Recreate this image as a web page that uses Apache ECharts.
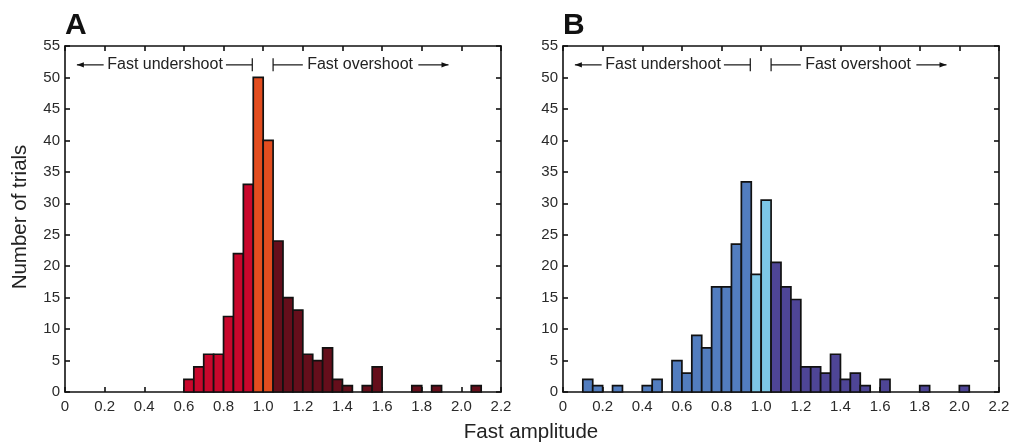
<!DOCTYPE html>
<html>
<head>
<meta charset="utf-8">
<script src="https://cdn.jsdelivr.net/npm/echarts@6/dist/echarts.min.js"></script>
<style>
html,body{margin:0;padding:0;background:#fff;}
#chart{width:1014px;height:442px;}
</style>
</head>
<body>
<div id="chart"></div>
<script>
// ---- data ----
const binWidth = 0.05;
const binStartsA = [0.60,0.65,0.70,0.75,0.80,0.85,0.90,0.95,1.00,1.05,1.10,1.15,1.20,1.25,1.30,1.35,1.40,1.50,1.55,1.75,1.85,2.05];
const countsA    = [2,   4,   6,   6,   12,  22,  33,  50,  40,  24,  15,  13,  6,   5,   7,   2,   1,   1,   4,   1,   1,   1];
const binStartsB = [0.10,0.15,0.25,0.40,0.45,0.55,0.60,0.65,0.70,0.75,0.80,0.85,0.90,0.95,1.00,1.05,1.10,1.15,1.20,1.25,1.30,1.35,1.40,1.45,1.50,1.60,1.80,2.00];
const countsB    = [2,   1,   1,   1,   2,   5,   3,   9,   7,   16.7,16.7,23.5,33.4,18.7,30.5,20.6,16.7,14.7,4,   4,   3,   6,   2,   3,   1,   2,   1,   1];
const xTicks = [0,0.2,0.4,0.6,0.8,1.0,1.2,1.4,1.6,1.8,2.0,2.2];
const yTicks = [0,5,10,15,20,25,30,35,40,45,50,55];
const panelLabels = ['A','B'];
const xName = 'Fast amplitude';
const yName = 'Number of trials';
const underText = 'Fast undershoot';
const overText = 'Fast overshoot';

const colorsA = {under:'#C9072C', center:'#E34D1F', over:'#650E1B'};
const colorsB = {under:'#527DBF', center:'#7DC7E6', over:'#4E4596'};

const FONT = '"Liberation Sans", Arial, Helvetica, sans-serif';
const chart = echarts.init(document.getElementById('chart'), null, {renderer:'canvas'});

const grids = [
  {left:65, top:46, width:436, height:346},
  {left:563, top:46, width:436, height:346}
];

function xAxisDef(gi, pos){
  return {
    type:'value', gridIndex:gi, position:pos, min:0, max:2.2, interval:0.2,
    axisLine:{show:true, onZero:false, lineStyle:{color:'#111', width:1.6}},
    axisTick:{show:true, inside:true, length:5, lineStyle:{color:'#111', width:1.6}},
    axisLabel:{show:pos==='bottom', color:'#2a2a2a', fontSize:15, fontFamily:FONT, margin:7,
      formatter:(v)=>{ const t = xTicks.find(k=>Math.abs(k-v)<1e-6); return t===0?'0':(t!==undefined?t.toFixed(1):''); }},
    splitLine:{show:false}
  };
}
function yAxisDef(gi, pos){
  return {
    type:'value', gridIndex:gi, position:pos, min:0, max:55, interval:5,
    axisLine:{show:true, onZero:false, lineStyle:{color:'#111', width:1.6}},
    axisTick:{show:true, inside:true, length:5, lineStyle:{color:'#111', width:1.6}},
    axisLabel:{show:pos==='left', color:'#2a2a2a', fontSize:15, fontFamily:FONT, margin:5,
      formatter:(v)=>{ const t = yTicks.find(k=>Math.abs(k-v)<1e-6); return t!==undefined?String(t):''; }},
    splitLine:{show:false}
  };
}

function makeSeries(gi, starts, counts, cols){
  return {
    type:'custom', xAxisIndex:gi*2, yAxisIndex:gi*2, clip:false,
    data: starts.map((s,i)=>[s, counts[i]]),
    renderItem:(params, api)=>{
      const x0 = api.value(0), v = api.value(1);
      if(!v) return null;
      const p0 = api.coord([x0, v]);
      const p1 = api.coord([x0+binWidth, 0]);
      let fill = cols.over;
      if(x0 < 0.95-1e-9) fill = cols.under;
      else if(x0 < 1.05-1e-9) fill = cols.center;
      return {type:'rect', shape:{x:p0[0], y:p0[1], width:p1[0]-p0[0], height:p1[1]-p0[1]},
        style:{fill:fill, stroke:'#111', lineWidth:1.7}};
    }
  };
}

chart.setOption({
  animation:false,
  backgroundColor:'#fff',
  grid:grids,
  xAxis:[xAxisDef(0,'bottom'), xAxisDef(0,'top'), xAxisDef(1,'bottom'), xAxisDef(1,'top')],
  yAxis:[yAxisDef(0,'left'), yAxisDef(0,'right'), yAxisDef(1,'left'), yAxisDef(1,'right')],
  series:[makeSeries(0, binStartsA, countsA, colorsA), makeSeries(1, binStartsB, countsB, colorsB)]
});

// ---- annotations placed in data space ----
const gfx = [];
const annY = 52;
function px(gi, x, y){ return chart.convertToPixel({gridIndex:gi}, [x, y]); }
function hline(a, b){ gfx.push({type:'line', shape:{x1:a[0], y1:a[1], x2:b[0], y2:b[1]}, style:{stroke:'#111', lineWidth:1.2}}); }
function vbar(p){ gfx.push({type:'line', shape:{x1:p[0], y1:p[1]-6.5, x2:p[0], y2:p[1]+6.5}, style:{stroke:'#111', lineWidth:1.2}}); }
function arrowHead(p, dir){ // dir -1 left, +1 right
  gfx.push({type:'polygon', shape:{points:[[p[0], p[1]], [p[0]-dir*7, p[1]-2.6], [p[0]-dir*7, p[1]+2.6]]}, style:{fill:'#111'}});
}
function text(p, s){ gfx.push({type:'text', x:p[0], y:p[1], style:{text:s, fill:'#222', font:'16px '+FONT, textAlign:'left', textVerticalAlign:'middle'}}); }
for(let gi=0; gi<2; gi++){
  const a0 = px(gi, 0.06, annY), a1 = px(gi, 0.195, annY);
  hline(a0, a1); arrowHead(a0, -1);
  text(px(gi, 0.213, annY), underText);
  const b0 = px(gi, 0.812, annY), b1 = px(gi, 0.945, annY);
  hline(b0, b1); vbar(b1);
  const c0 = px(gi, 1.05, annY), c1 = px(gi, 1.2, annY);
  hline(c0, c1); vbar(c0);
  text(px(gi, 1.222, annY), overText);
  const d0 = px(gi, 1.783, annY), d1 = px(gi, 1.935, annY);
  hline(d0, d1); arrowHead(d1, 1);
  // panel letter
  gfx.push({type:'text', x:grids[gi].left, y:26, style:{text:panelLabels[gi], fill:'#111', font:'bold 30px '+FONT, textAlign:'left', textVerticalAlign:'middle'}});
}
gfx.push({type:'text', x:531, y:432, style:{text:xName, fill:'#222', font:'20.5px '+FONT, textAlign:'center', textVerticalAlign:'middle'}});
gfx.push({type:'text', x:20, y:217, rotation:Math.PI/2, style:{text:yName, fill:'#222', font:'20.5px '+FONT, textAlign:'center', textVerticalAlign:'middle'}});
chart.setOption({graphic:gfx});
</script>
</body>
</html>
